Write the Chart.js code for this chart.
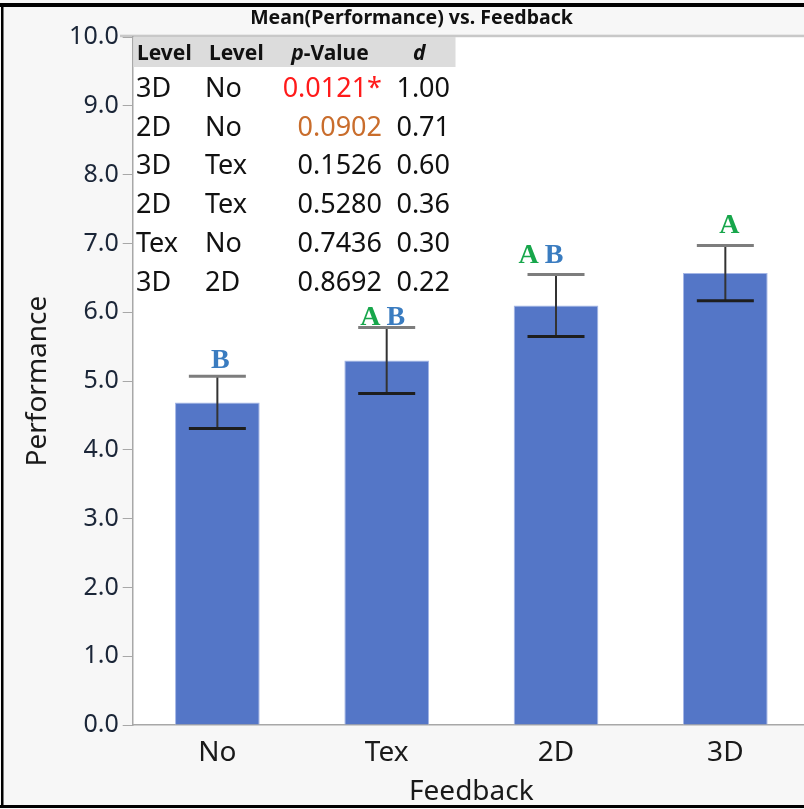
<!DOCTYPE html>
<html>
<head>
<meta charset="utf-8">
<script src="https://cdn.jsdelivr.net/npm/chart.js@4.4.1/dist/chart.umd.min.js"></script>
<style>
    html, body { margin: 0; padding: 0; background: #f7f7f7; overflow: hidden; }
    #wrap { width: 823px; height: 809px; }
</style>
</head>
<body>
<div id="wrap"><canvas id="myChart" width="823" height="809"></canvas></div>
<script>
// data
var feedback = ["No", "Tex", "2D", "3D"];
var meanPerf = [4.69, 5.30, 6.10, 6.57];
var errPerf = [0.38, 0.48, 0.45, 0.40];
var groupLetters = [["B"], ["A", "B"], ["A", "B"], ["A"]];
var yTicks = [0, 1, 2, 3, 4, 5, 6, 7, 8, 9, 10];

// pairwise comparison table
var levelA = ["3D", "2D", "3D", "2D", "Tex", "3D"];
var levelB = ["No", "No", "Tex", "Tex", "No", "2D"];
var pValues = [0.0121, 0.0902, 0.1526, 0.5280, 0.7436, 0.8692];
var dValues = [1.00, 0.71, 0.60, 0.36, 0.30, 0.22];

var letterColor = { A: "#17a64b", B: "#3a7cc0" };
// hand placed nudges for the letter groups [dx, baseline gap above cap]
var letterNudge = [[3, 8], [-4, 2], [-15, 11], [4, 13]];

var bgPlugin = {
    id: "bg",
    beforeDraw: function (chart) {
        var c = chart.ctx, a = chart.chartArea;
        c.save();
        c.fillStyle = "#f7f7f7";
        c.fillRect(0, 0, chart.width, chart.height);
        c.fillStyle = "#ffffff";
        c.fillRect(a.left, a.top, a.right - a.left, a.bottom - a.top);
        c.fillStyle = "#c8c8c8";
        c.fillRect(120, a.top - 2.5, chart.width, 2.5);
        c.restore();
    },
    afterDraw: function (chart) {
        var c = chart.ctx;
        c.save();
        c.fillStyle = "#000";
        c.fillRect(0, 3, chart.width, 4);
        c.fillRect(1, 3, 2.5, 805);
        c.fillRect(0, 805, chart.width, 3);
        c.restore();
    }
};

var errPlugin = {
    id: "errbars",
    afterDatasetsDraw: function (chart) {
        var c = chart.ctx, x = chart.scales.x, y = chart.scales.y;
        c.save();
        for (var i = 0; i < feedback.length; i++) {
            var cx = x.getPixelForValue(i);
            var top = y.getPixelForValue(meanPerf[i] + errPerf[i]);
            var bot = y.getPixelForValue(meanPerf[i] - errPerf[i]);
            c.strokeStyle = "#333";
            c.lineWidth = 2;
            c.beginPath(); c.moveTo(cx, top); c.lineTo(cx, bot); c.stroke();
            c.lineWidth = 3;
            c.strokeStyle = "#7d7d7d";
            c.beginPath(); c.moveTo(cx - 28.5, top); c.lineTo(cx + 28.5, top); c.stroke();
            c.strokeStyle = "#1e1e1e";
            c.beginPath(); c.moveTo(cx - 28.5, bot); c.lineTo(cx + 28.5, bot); c.stroke();

            // connecting letters
            c.font = "bold 28px 'Liberation Serif', serif";
            c.textBaseline = "alphabetic";
            var parts = groupLetters[i];
            var gap = 6, w = 0;
            parts.forEach(function (p, k) { w += c.measureText(p).width + (k ? gap : 0); });
            var lx = cx - w / 2 + letterNudge[i][0];
            var ly = top - letterNudge[i][1];
            parts.forEach(function (p) {
                c.fillStyle = letterColor[p];
                c.textAlign = "left";
                c.fillText(p, lx, ly);
                lx += c.measureText(p).width + gap;
            });
        }
        c.restore();
    }
};

var tablePlugin = {
    id: "table",
    afterDraw: function (chart) {
        var c = chart.ctx;
        c.save();
        c.fillStyle = "#dcdcdc";
        c.fillRect(133.5, 37, 322, 30);
        c.fillStyle = "#111";
        c.textBaseline = "alphabetic";
        c.font = "bold 21px 'Noto Sans'";
        c.textAlign = "left";
        c.fillText("Level", 137, 59.5);
        c.fillText("Level", 209, 59.5);
        c.font = "italic bold 21px 'Noto Sans'";
        var pw = c.measureText("p").width;
        c.font = "bold 21px 'Noto Sans'";
        var vw = c.measureText("-Value").width;
        var px = 330 - (pw + vw) / 2;
        c.font = "italic bold 21px 'Noto Sans'";
        c.fillText("p", px, 59.5);
        c.fillText("d", 413, 59.5);
        c.font = "bold 21px 'Noto Sans'";
        c.fillText("-Value", px + pw, 59.5);

        c.font = "27px 'Noto Sans'";
        for (var r = 0; r < levelA.length; r++) {
            var by = 97 + r * 38.7;
            c.fillStyle = "#111";
            c.textAlign = "left";
            c.fillText(levelA[r], 136, by);
            c.fillText(levelB[r], 205, by);
            var ps = pValues[r].toFixed(4) + (pValues[r] < 0.05 ? "*" : "");
            c.fillStyle = pValues[r] < 0.05 ? "#ff1a1a" : (pValues[r] < 0.1 ? "#c96d2c" : "#111");
            c.textAlign = "right";
            c.fillText(ps, 382, by);
            c.fillStyle = "#111";
            c.fillText(dValues[r].toFixed(2), 450, by);
        }
        c.restore();
    }
};

const ctx = document.getElementById("myChart");
var chart = new Chart(ctx, {
    type: "bar",
    data: {
        labels: feedback,
        datasets: [{
            label: "Mean(Performance)",
            data: meanPerf,
            backgroundColor: "#5476c7",
            borderColor: "#a4b6e6",
            borderWidth: 1,
            barPercentage: 0.5,
            categoryPercentage: 1.0
        }]
    },
    options: {
        responsive: false,
        animation: false,
        devicePixelRatio: 1,
        layout: { padding: { left: 13, right: 13, top: 0, bottom: 0 } },
        plugins: {
            legend: { display: false },
            tooltip: { enabled: false },
            title: {
                display: true,
                text: "Mean(Performance) vs. Feedback",
                color: "#111",
                font: { family: "'Noto Sans'", size: 19.5, weight: "bold" },
                padding: { top: 7, bottom: 6.8 }
            }
        },
        scales: {
            x: {
                afterFit: function (s) { s.height = 84; },
                grid: { drawOnChartArea: false, drawTicks: false },
                border: { color: "#a8a8a8", width: 1.5 },
                ticks: { color: "#1a1a1a", padding: 11, font: { family: "'Noto Sans'", size: 28 } },
                title: {
                    display: true, text: "Feedback", color: "#1a1a1a",
                    font: { family: "'Noto Sans'", size: 28 },
                    padding: { top: 0, bottom: 0 }
                }
            },
            y: {
                min: 0,
                max: 10,
                afterFit: function (s) { s.width = 119.7; },
                afterBuildTicks: function (s) { s.ticks = yTicks.map(function (v) { return { value: v }; }); },
                grid: { drawOnChartArea: false, drawTicks: true, tickLength: 10, color: "#a8a8a8" },
                border: { color: "#a8a8a8", width: 1.5 },
                ticks: {
                    color: "#1b2638",
                    padding: 4,
                    font: { family: "'Noto Sans'", size: 25 },
                    callback: function (v) { return Number(v).toFixed(1); }
                },
                title: {
                    display: true, text: "Performance", color: "#1a1a1a",
                    font: { family: "'Noto Sans'", size: 28 },
                    padding: { top: 8, bottom: 0 }
                }
            }
        }
    },
    plugins: [bgPlugin, errPlugin, tablePlugin]
});
</script>
</body>
</html>
